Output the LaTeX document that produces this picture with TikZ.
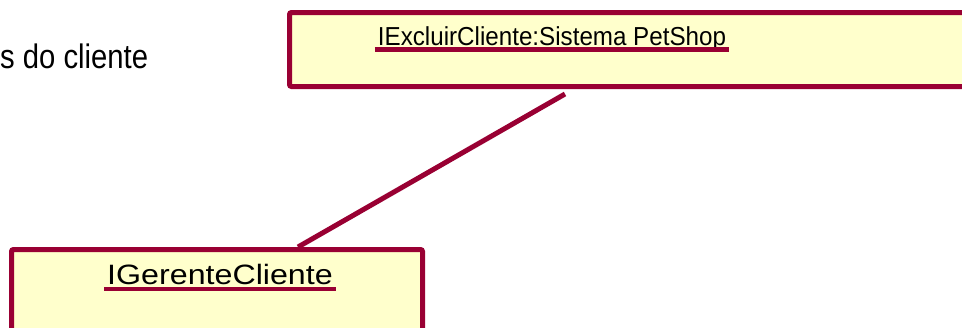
\documentclass[tikz,border=0pt]{standalone}
\usepackage{fontspec}
\setmainfont{Liberation Sans}
\usetikzlibrary{calc}

\definecolor{objborder}{HTML}{990033}
\definecolor{objfill}{HTML}{FFFFCC}

\begin{document}
\begin{tikzpicture}[x=1pt, y=-1pt,
        objbox/.style={draw=objborder, fill=objfill, line width=5pt, rounded corners=2pt,
                outer sep=0pt, inner sep=0pt, anchor=north west},
        objname/.style={anchor=base, inner xsep=3pt, inner ysep=0pt},
        underln/.style={draw=objborder, line width=#1},
        link/.style={draw=objborder, line width=5pt}]
        \useasboundingbox (0,0) rectangle (962,327);
        \clip (0,0) rectangle (962,327);

        % left-over note text
        \node (note) [anchor=base west, inner sep=0pt] at (0,68)
                {\fontsize{34}{40}\selectfont\scalebox{0.86}[1]{s do cliente}};

        % objects
        \node (sistema) [objbox, minimum width=710.5pt, minimum height=74pt] at (289.5,12.5) {};
        \node (gerente) [objbox, minimum width=411pt, minimum height=120pt] at (11.5,249.5) {};

        \node (sistemaname) [objname] at ($(sistema.north west)+(262.5,32.5)$)
                {\fontsize{26}{31}\selectfont\scalebox{0.93}[1]{IExcluirCliente:Sistema PetShop}};
        \draw [underln=5pt] ($(sistemaname.base west)+(0,4.5)$) -- ($(sistemaname.base east)+(0,4.5)$);

        \node (gerentename) [objname] at ($(gerente.north west)+(208.5,35)$)
                {\fontsize{28}{33}\selectfont\scalebox{1.15}[1]{IGerenteCliente}};
        \draw [underln=4pt] ($(gerentename.base west)+(0,4.5)$) -- ($(gerentename.base east)+(0,4.5)$);

        % link
        \draw [link] ($(sistema.south west)+(275.5,7.5)$) -- ($(gerente.north west)+(286.5,-2.5)$);
\end{tikzpicture}
\end{document}
